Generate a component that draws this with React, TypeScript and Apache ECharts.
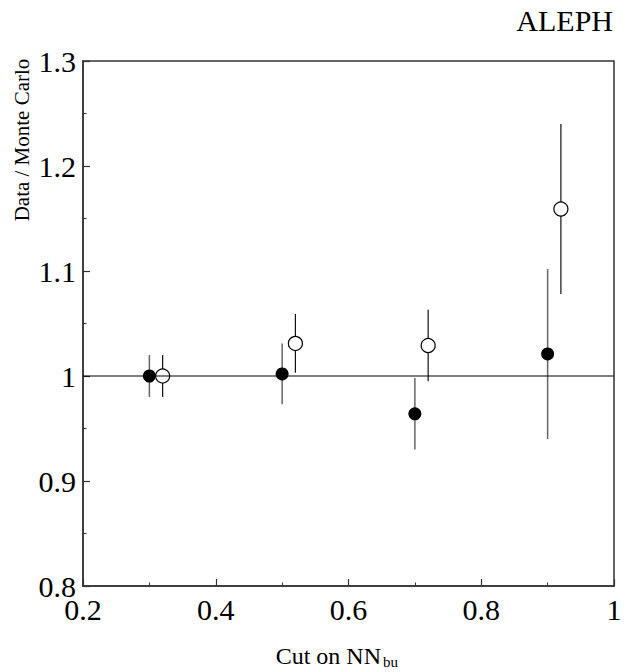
import * as echarts from "echarts"
import { useEffect, useRef } from "react"

// NN cut values for the two samples (open points are offset by 0.02 for legibility)
const CUTS_FILLED = [0.3, 0.5, 0.7, 0.9]
const CUTS_OPEN = [0.32, 0.52, 0.72, 0.92]

const RATIO_FILLED = [1.0, 1.002, 0.964, 1.021]
const ERR_FILLED = [0.02, 0.029, 0.034, 0.081]

const RATIO_OPEN = [1.0, 1.031, 1.029, 1.159]
const ERR_OPEN = [0.02, 0.028, 0.034, 0.081]

const X_RANGE = [0.2, 1.0]
const Y_RANGE = [0.8, 1.3]
const REFERENCE = 1.0

const FONT = "Liberation Serif, Times New Roman, serif"
const FRAME = "#333"

function errorBars(cuts: number[], ratios: number[], errs: number[]) {
  return cuts.map((c, i) => [c, ratios[i] - errs[i], ratios[i] + errs[i]])
}

function errorBarSeries(data: number[][], stroke: string, lineWidth: number) {
  return {
    type: "custom",
    silent: true,
    encode: { x: 0, y: [1, 2] },
    data,
    renderItem: (_params: any, api: any) => {
      const top = api.coord([api.value(0), api.value(2)])
      const bottom = api.coord([api.value(0), api.value(1)])
      return {
        type: "line",
        shape: { x1: top[0], y1: top[1], x2: bottom[0], y2: bottom[1] },
        style: { stroke, lineWidth },
      }
    },
  }
}

function axisCommon() {
  return {
    type: "value",
    axisLine: { show: true, lineStyle: { color: FRAME, width: 1.5 } },
    axisTick: { show: true, inside: true, length: 7, lineStyle: { color: FRAME, width: 1.2 } },
    minorTick: { show: true, splitNumber: 2, length: 3.5, lineStyle: { color: FRAME, width: 1 } },
    splitLine: { show: false },
    minorSplitLine: { show: false },
  }
}

export default function App() {
  const node = useRef<HTMLDivElement>(null)

  useEffect(() => {
    if (!node.current) return
    const chart = echarts.init(node.current, undefined, { renderer: "svg" })
    chart.setOption({
      animation: false,
      backgroundColor: "#fff",
      textStyle: { fontFamily: FONT, color: "#000" },
      grid: {
        left: 83,
        top: 61,
        width: 531,
        height: 525,
        show: true,
        borderColor: FRAME,
        borderWidth: 1.5,
        containLabel: false,
        outerBoundsMode: "none",
      },
      xAxis: {
        ...axisCommon(),
        min: X_RANGE[0],
        max: X_RANGE[1],
        interval: 0.2,
        axisLabel: {
          color: "#000",
          fontFamily: FONT,
          fontSize: 30,
          lineHeight: 22,
          margin: 12,
          showMinLabel: true,
          showMaxLabel: true,
        },
      },
      yAxis: {
        ...axisCommon(),
        min: Y_RANGE[0],
        max: Y_RANGE[1],
        interval: 0.1,
        axisLabel: {
          color: "#000",
          fontFamily: FONT,
          fontSize: 30,
          lineHeight: 22,
          margin: 7,
          showMinLabel: true,
          showMaxLabel: true,
        },
      },
      graphic: [
        {
          type: "text",
          right: 16,
          top: 5,
          style: { text: "ALEPH", font: `30px ${FONT}`, fill: "#000" },
        },
        {
          type: "text",
          x: 22,
          y: 140,
          rotation: Math.PI / 2,
          style: {
            text: "Data / Monte Carlo",
            font: `21px ${FONT}`,
            fill: "#000",
            align: "center",
            verticalAlign: "middle",
          },
        },
        {
          type: "text",
          x: 381,
          y: 656,
          style: {
            text: "Cut on NN",
            font: `24px ${FONT}`,
            fill: "#000",
            align: "right",
            verticalAlign: "middle",
          },
        },
        {
          type: "text",
          x: 383,
          y: 662,
          style: {
            text: "bu",
            font: `15px ${FONT}`,
            fill: "#000",
            align: "left",
            verticalAlign: "middle",
          },
        },
      ],
      series: [
        {
          type: "line",
          silent: true,
          symbol: "none",
          data: [
            [X_RANGE[0], REFERENCE],
            [X_RANGE[1], REFERENCE],
          ],
          lineStyle: { color: "#000", width: 1.2 },
        },
        errorBarSeries(errorBars(CUTS_FILLED, RATIO_FILLED, ERR_FILLED), "#666", 1.5),
        errorBarSeries(errorBars(CUTS_OPEN, RATIO_OPEN, ERR_OPEN), "#111", 1.2),
        {
          type: "scatter",
          silent: true,
          symbol: "circle",
          symbolSize: 13,
          data: CUTS_FILLED.map((c, i) => [c, RATIO_FILLED[i]]),
          itemStyle: { color: "#000", opacity: 1 },
        },
        {
          type: "scatter",
          silent: true,
          symbol: "circle",
          symbolSize: 14,
          data: CUTS_OPEN.map((c, i) => [c, RATIO_OPEN[i]]),
          itemStyle: { color: "#fff", borderColor: "#000", borderWidth: 1.2, opacity: 1 },
        },
      ],
    })
    return () => chart.dispose()
  }, [])

  return (
    <div
      ref={node}
      style={{ position: "absolute", left: 0, top: 0, width: 629, height: 672 }}
    />
  )
}
